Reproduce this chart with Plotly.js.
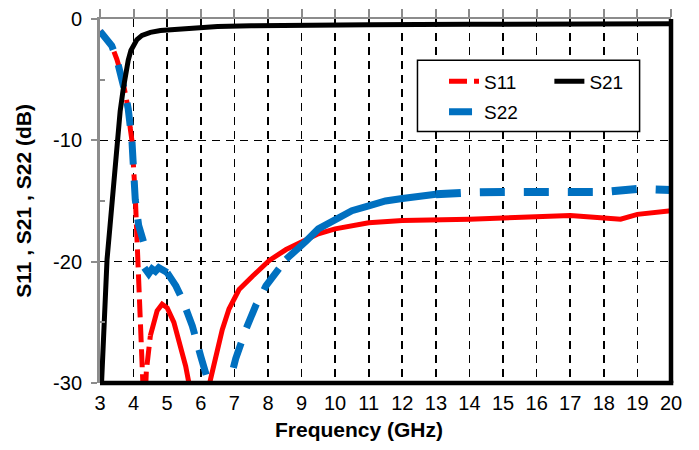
<!DOCTYPE html>
<html>
<head>
<meta charset="utf-8">
<script src="https://cdn.plot.ly/plotly-3.0.1.min.js"></script>
<style>html,body{margin:0;padding:0;background:#fff;}#chart{width:699px;height:450px;}</style>
</head>
<body>
<div id="chart"></div>
<script>
// ---- data ----
const freqS21 = [3.03, 3.12, 3.21, 3.30, 3.39, 3.45, 3.51, 3.60, 3.69, 3.78, 3.84, 3.92, 4.00, 4.10, 4.25, 4.50, 4.80, 5.20, 5.80, 6.50, 7.50, 9.00, 11.0, 14.0, 17.0, 20.0];
const s21     = [-31, -25, -19.8, -17, -14, -11.5, -9.9, -7.6, -5.8, -4.3, -3.4, -2.6, -2.1, -1.7, -1.35, -1.1, -0.95, -0.85, -0.72, -0.62, -0.55, -0.5, -0.47, -0.44, -0.42, -0.4];

const freqS11 = [3.00, 3.15, 3.35, 3.50, 3.65, 3.75, 3.84, 3.90, 3.95, 4.05, 4.10, 4.15, 4.20, 4.28, 4.32, 4.38, 4.44, 4.50, 4.60, 4.70, 4.85, 5.00, 5.20, 5.40, 5.55, 5.64, 5.95, 6.29, 6.44, 6.64, 6.84, 7.14, 7.54, 8.04, 8.54, 9.00, 9.50, 10.0, 11.0, 12.0, 13.0, 14.0, 15.0, 16.0, 17.0, 17.5, 18.0, 18.5, 19.0, 19.5, 20.0];
const s11     = [-1.0, -1.5, -2.2, -3.3, -4.7, -6.1, -7.4, -9.0, -10.0, -14.6, -18.0, -21.5, -24.5, -30.0, -33, -29.0, -27.0, -26.1, -25.0, -24.05, -23.5, -23.8, -25.0, -26.9, -28.6, -29.9, -34, -29.7, -27.8, -25.6, -23.9, -22.3, -21.2, -19.9, -19.0, -18.4, -17.7, -17.3, -16.8, -16.6, -16.6, -16.5, -16.4, -16.3, -16.2, -16.3, -16.4, -16.5, -16.1, -15.9, -15.8];

const freqS22 = [3.00, 3.15, 3.35, 3.50, 3.65, 3.75, 3.84, 3.90, 3.95, 4.05, 4.15, 4.30, 4.32, 4.45, 4.55, 4.65, 4.75, 4.85, 5.00, 5.26, 5.45, 5.75, 6.00, 6.20, 6.55, 6.90, 7.04, 7.34, 7.64, 7.94, 8.24, 8.54, 8.84, 9.14, 9.50, 10.0, 10.5, 11.0, 11.5, 12.0, 12.5, 13.0, 13.5, 14.0, 15.0, 16.0, 17.0, 18.0, 19.0, 20.0];
const s22     = [-1.0, -1.5, -2.2, -3.3, -4.7, -6.1, -7.4, -9.0, -10.0, -14.9, -17.0, -18.4, -20.5, -21.0, -20.6, -20.8, -20.5, -20.6, -20.9, -22.0, -23.1, -25.3, -27.8, -29.8, -33, -29.5, -28.0, -25.6, -23.6, -22.0, -20.9, -19.8, -19.1, -18.3, -17.3, -16.5, -15.8, -15.4, -15.0, -14.8, -14.6, -14.45, -14.35, -14.3, -14.25, -14.25, -14.25, -14.25, -14.0, -14.1];

const xTickVals = [3, 4, 5, 6, 7, 8, 9, 10, 11, 12, 13, 14, 15, 16, 17, 18, 19, 20];
const yTickVals = [0, -10, -20, -30];
const yTickText = ['0', '-10', '-20', '-30'];

// ---- helpers ----
function seg(xs, ys, lo, hi) {
  const x = [], y = [];
  for (let i = 0; i < xs.length; i++) {
    if (xs[i] >= lo && xs[i] <= hi) { x.push(xs[i]); y.push(ys[i]); }
  }
  return {x: x, y: y};
}

const RED = '#ff0000', BLUE = '#0070c0', BLACK = '#000000';
const FONT = 'Liberation Sans, Arial, sans-serif';

const s11a = seg(freqS11, s11, 3, 4.5);
const s11b = seg(freqS11, s11, 4.5, 20);
const s22a = seg(freqS22, s22, 3, 4.3);
const s22b = seg(freqS22, s22, 4.32, 5.0);
const s22c = seg(freqS22, s22, 5.0, 8.54);
const s22d = seg(freqS22, s22, 8.54, 13.0);
const s22e = seg(freqS22, s22, 13.0, 20);

const traces = [
  {x: s11a.x, y: s11a.y, name: 'S11', mode: 'lines', legend: 'legend', legendgroup: 'a',
   line: {color: RED, width: 5, dash: '18px,7px'}},
  {x: s11b.x, y: s11b.y, name: 'S11', mode: 'lines', showlegend: false, legendgroup: 'a',
   line: {color: RED, width: 5}},
  {x: freqS21, y: s21, name: 'S21', mode: 'lines', xaxis: 'x2', legend: 'legend2',
   line: {color: BLACK, width: 5}},
  {x: s22a.x, y: s22a.y, name: 'S22', mode: 'lines', legend: 'legend', legendgroup: 'b',
   line: {color: BLUE, width: 7, dash: '23px,16px'}},
  {x: s22b.x, y: s22b.y, name: 'S22', mode: 'lines', showlegend: false, legendgroup: 'b',
   line: {color: BLUE, width: 7}},
  {x: s22c.x, y: s22c.y, name: 'S22', mode: 'lines', showlegend: false, legendgroup: 'b',
   line: {color: BLUE, width: 7, dash: '26px,16px'}},
  {x: s22d.x, y: s22d.y, name: 'S22', mode: 'lines', showlegend: false, legendgroup: 'b',
   line: {color: BLUE, width: 7}},
  {x: s22e.x, y: s22e.y, name: 'S22', mode: 'lines', showlegend: false, legendgroup: 'b',
   line: {color: BLUE, width: 8, dash: '25px,19px'}}
];

const layout = {
  width: 699, height: 450,
  margin: {l: 100, r: 28, t: 19, b: 67},
  paper_bgcolor: '#ffffff', plot_bgcolor: '#ffffff',
  font: {family: FONT, color: '#000', size: 20},
  showlegend: true,
  xaxis: {
    range: [3, 20], tickvals: xTickVals, ticks: '', showline: false,
    showgrid: true, gridcolor: '#000', gridwidth: 1.6, griddash: '8px,6px',
    zeroline: false, tickfont: {size: 20, family: FONT}, ticklabelstandoff: 6,
    fixedrange: true
  },
  xaxis2: {
    range: [3, 20], overlaying: 'x', side: 'top', anchor: 'y', tickvals: xTickVals,
    showticklabels: false, ticks: 'outside', ticklen: 8, tickwidth: 2, tickcolor: '#8c8c8c',
    showline: true, linecolor: '#8c8c8c', linewidth: 2.5, showgrid: false, zeroline: false
  },
  yaxis: {
    range: [-30, 0], tickvals: yTickVals, ticktext: yTickText,
    ticks: 'outside', ticklen: 6, tickwidth: 2, tickcolor: '#8c8c8c',
    showline: true, linecolor: '#8c8c8c', linewidth: 3,
    showgrid: true, gridcolor: '#000', gridwidth: 1.6, griddash: '8px,6px',
    zeroline: false, tickfont: {size: 20, family: FONT}, ticklabelstandoff: 5,
    minor: {tickvals: [-5, -15, -25], ticks: 'inside', ticklen: 5, tickwidth: 2, tickcolor: '#8c8c8c', showgrid: false},
    title: {text: '<b>S11 , S21 , S22 (dB)</b>', font: {size: 21, family: FONT}, standoff: 16}
  },
  legend: {
    x: 0.6025, y: 0.881, xanchor: 'left', yanchor: 'top',
    bgcolor: 'rgba(0,0,0,0)', borderwidth: 0, font: {size: 19, family: FONT},
    traceorder: 'grouped', tracegroupgap: 3
  },
  legend2: {
    x: 0.787, y: 0.881, xanchor: 'left', yanchor: 'top',
    bgcolor: 'rgba(0,0,0,0)', borderwidth: 0, font: {size: 19, family: FONT}
  },
  shapes: [
    {type: 'rect', xref: 'paper', yref: 'paper', x0: 0.556, x1: 0.945, y0: 0.691, y1: 0.887,
     line: {color: '#000', width: 1.5}, fillcolor: '#ffffff', layer: 'above'},
    {type: 'line', xref: 'paper', yref: 'paper', x0: 0, x1: 1.004, y0: 0, y1: 0,
     line: {color: '#000', width: 4.5}},
    {type: 'line', xref: 'paper', yref: 'paper', x0: 1, x1: 1, y0: 0, y1: 1,
     line: {color: '#000', width: 4.5}}
  ],
  annotations: [
    {text: '<b>Frequency (GHz)</b>', xref: 'paper', yref: 'paper', x: 0.453, y: -0.127,
     xanchor: 'center', yanchor: 'middle', showarrow: false, font: {size: 21, family: FONT}}
  ]
};

Plotly.newPlot('chart', traces, layout, {displayModeBar: false, staticPlot: true});
</script>
</body>
</html>
